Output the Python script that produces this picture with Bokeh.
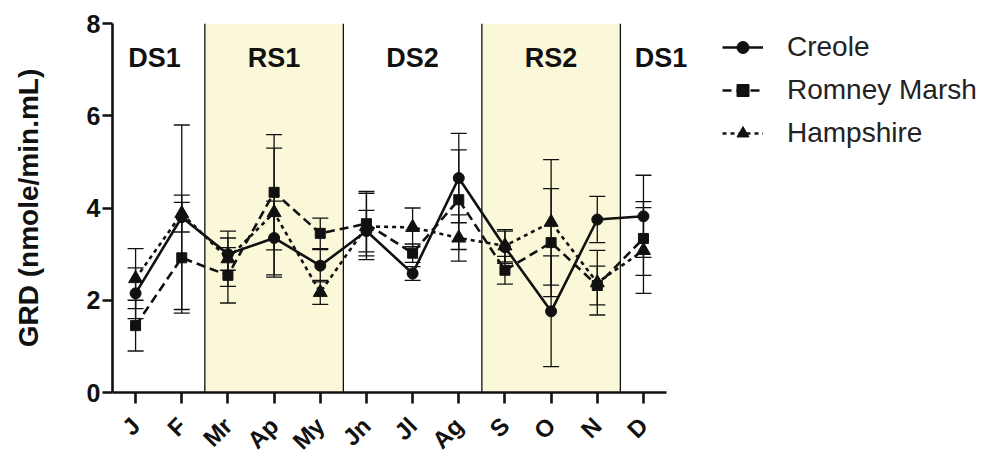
from math import pi
from bokeh.plotting import figure
from bokeh.models import (ColumnDataSource, Whisker, TeeHead, BoxAnnotation, Span,
                          Label, Legend, LegendItem, FixedTicker)
from bokeh.embed import file_html
from bokeh.resources import INLINE

# ---- data ----
months = ["J", "F", "Mr", "Ap", "My", "Jn", "Jl", "Ag", "S", "O", "N", "D"]
creole = [2.15, 3.80, 3.00, 3.35, 2.75, 3.50, 2.58, 4.65, 3.15, 1.76, 3.75, 3.82]
creole_err = [0.55, 2.00, 0.35, 0.80, 0.35, 0.45, 0.15, 0.97, 0.35, 1.20, 0.50, 0.89]
romney = [1.45, 2.92, 2.54, 4.34, 3.45, 3.66, 3.02, 4.18, 2.65, 3.25, 2.32, 3.34]
romney_err = [0.55, 1.20, 0.60, 1.25, 0.33, 0.70, 0.20, 1.08, 0.30, 1.17, 0.42, 0.80]
hamp = [2.47, 3.88, 2.90, 3.90, 2.17, 3.60, 3.58, 3.35, 3.18, 3.69, 2.38, 3.08]
hamp_err = [0.65, 0.40, 0.60, 1.40, 0.26, 0.72, 0.42, 0.50, 0.35, 1.36, 0.70, 0.93]
series_names = ["Creole", "Romney Marsh", "Hampshire"]
season_labels = ["DS1", "RS1", "DS2", "RS2", "DS1"]
season_edges = [1.5, 4.5, 7.5, 10.5]
rainy_bands = [(1.5, 4.5), (7.5, 10.5)]
y_ticks = [0, 2, 4, 6, 8]

FONT = "Liberation Sans"
INK = "#111111"

W, H = 988, 453
LEFT, TOP, FH = 112, 23, 369
UNIT = 46.17
FW = W - LEFT
x_end = -0.5 + FW / UNIT

p = figure(x_range=(-0.5, x_end), y_range=(0, 8),
           width=W, height=H, frame_width=FW, frame_height=FH,
           min_border_left=LEFT, min_border_top=TOP, min_border_right=0,
           min_border_bottom=H - TOP - FH,
           output_backend="svg", toolbar_location=None,
           background_fill_color="white", border_fill_color="white")
p.outline_line_color = None
p.xgrid.visible = False
p.ygrid.visible = False

# rainy season shading and season dividers
for a, b in rainy_bands:
    p.add_layout(BoxAnnotation(left=a, right=b, fill_color="#FBF8DA", fill_alpha=1.0,
                               line_color=None, level="underlay"))
for e in season_edges:
    p.add_layout(Span(location=e, dimension="height", line_color=INK, line_width=1.3,
                      level="underlay"))

# season labels
season_x = [0.41, 3.0, 6.0, 9.0, 11.38]
for name, sx in zip(season_labels, season_x):
    p.add_layout(Label(x=sx, y=7.25, text=name, text_align="center",
                       text_baseline="middle", text_font=FONT, text_font_size="27px",
                       text_font_style="bold", text_color=INK))

xs = list(range(len(months)))
styles = [
    (creole, creole_err, "solid", "circle", 11),
    (romney, romney_err, "9 5", "square", 10),
    (hamp, hamp_err, "4 4", "triangle", 14),
]
items = []
for name, (vals, errs, dash, marker, size) in zip(series_names, styles):
    src = ColumnDataSource(dict(x=xs, y=vals,
                                upper=[v + e for v, e in zip(vals, errs)],
                                lower=[v - e for v, e in zip(vals, errs)]))
    p.add_layout(Whisker(base="x", upper="upper", lower="lower", source=src,
                         line_color=INK, line_width=1.3,
                         upper_head=TeeHead(size=16, line_color=INK, line_width=1.3),
                         lower_head=TeeHead(size=16, line_color=INK, line_width=1.3),
                         level="glyph"))
    r_line = p.line("x", "y", source=src, line_color=INK, line_width=2.6, line_dash=dash)
    r_mark = p.scatter("x", "y", source=src, marker=marker, size=size,
                       fill_color=INK, line_color=INK)
    items.append(LegendItem(label=name, renderers=[r_line, r_mark]))

legend = Legend(items=items, location=(610, 243), padding=0, margin=0,
                glyph_width=41, glyph_height=30, label_height=30, spacing=11,
                label_standoff=24, label_text_font=FONT, label_text_font_size="28px",
                label_text_color="#222222", border_line_color=None,
                background_fill_alpha=0)
p.add_layout(legend)

# axes
for ax in (p.xaxis[0], p.yaxis[0]):
    ax.axis_line_color = INK
    ax.axis_line_width = 2.6
    ax.major_tick_line_color = INK
    ax.major_tick_line_width = 2.6
    ax.major_tick_in = 0
    ax.minor_tick_line_color = None
    ax.major_label_text_font = FONT
    ax.major_label_text_font_style = "bold"
    ax.major_label_text_color = INK

p.yaxis.ticker = FixedTicker(ticks=y_ticks)
p.yaxis.major_tick_out = 10
p.yaxis.major_label_text_font_size = "25px"
p.yaxis.major_label_standoff = 2
p.yaxis.axis_label = "GRD (nmole/min.mL)"
p.yaxis.axis_label_text_font = FONT
p.yaxis.axis_label_text_font_size = "28px"
p.yaxis.axis_label_text_font_style = "bold"
p.yaxis.axis_label_text_color = INK
p.yaxis.axis_label_standoff = 40

p.xaxis.bounds = (-0.5, 11.5)
p.xaxis.ticker = FixedTicker(ticks=xs)
p.xaxis.major_label_overrides = {i: m for i, m in enumerate(months)}
p.xaxis.major_tick_out = 11
p.xaxis.major_label_text_font_size = "24px"
p.xaxis.major_label_orientation = pi / 4
p.xaxis.major_label_standoff = 18

open("out.html", "w").write(file_html(p, INLINE))
